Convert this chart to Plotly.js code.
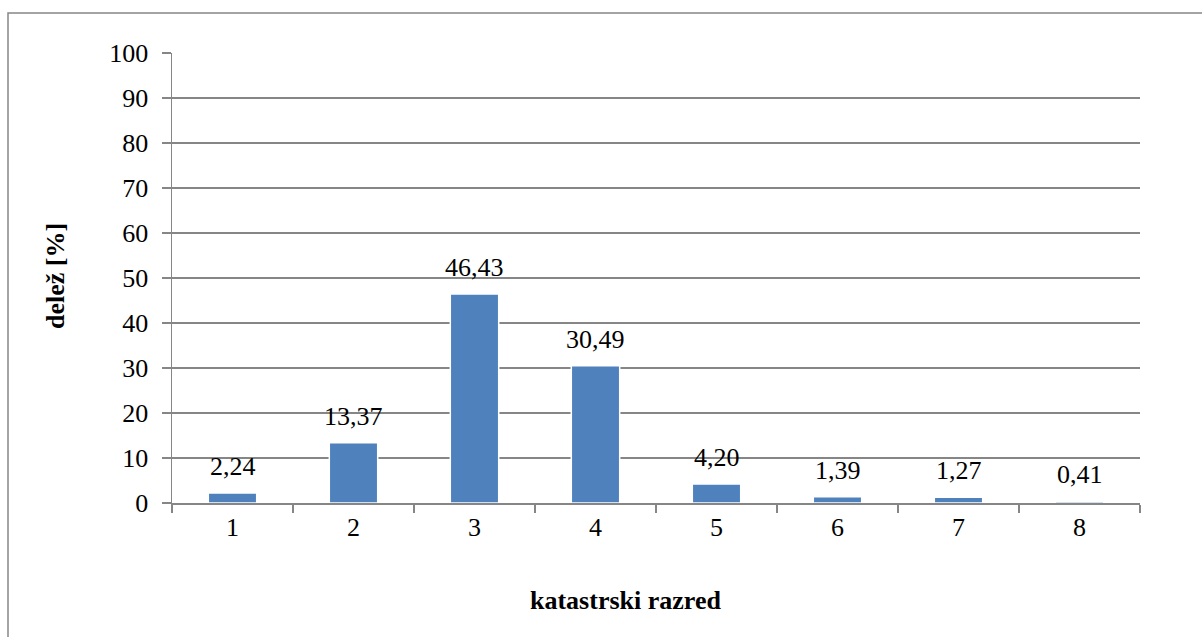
<!DOCTYPE html>
<html>
<head>
<meta charset="utf-8">
<script src="https://cdn.plot.ly/plotly-3.0.1.min.js"></script>
<style>
  html, body { margin: 0; padding: 0; background: #fff; }
  #chart { width: 1202px; height: 637px; }
</style>
</head>
<body>
<div id="chart"></div>
<script>
// Share of land per cadastral class
const razredi = ['1', '2', '3', '4', '5', '6', '7', '8'];
const delez = [2.24, 13.37, 46.43, 30.49, 4.20, 1.39, 1.27, 0.41];
const yTicks = [0, 10, 20, 30, 40, 50, 60, 70, 80, 90, 100];

const FONT = '"Liberation Serif", "Times New Roman", serif';
const GRAY = '#868686';

const W = 1202, H = 637;
const M = { l: 172, r: 62, t: 53, b: 134 };
const pw = W - M.l - M.r, ph = H - M.t - M.b;
// pixel -> paper helpers for the frame and the axis titles
const px = v => (v - M.l) / pw;
const py = v => (H - M.b - v) / ph;

const fmt = v => v.toFixed(2).replace('.', ',');

const trace = {
  type: 'bar',
  x: razredi,
  y: delez,
  marker: { color: '#4F81BD', line: { color: '#ffffff', width: 1.5 } },
  hoverinfo: 'x+y'
};

// value labels above each bar; on a category axis the annotation x is the category index
const valueLabels = razredi.map((r, i) => ({
  x: i, y: delez[i], xref: 'x', yref: 'y',
  text: fmt(delez[i]), showarrow: false,
  yanchor: 'bottom', yshift: 10,
  font: { family: FONT, size: 26, color: '#000' }
}));

const layout = {
  width: W, height: H,
  margin: M,
  paper_bgcolor: '#fff', plot_bgcolor: '#fff',
  showlegend: false,
  bargap: 0.6,
  font: { family: FONT, size: 26, color: '#000' },
  xaxis: {
    type: 'category',
    range: [-0.5, razredi.length - 0.5],
    tickson: 'boundaries',
    ticks: 'outside', ticklen: 8, tickwidth: 1.5, tickcolor: GRAY,
    showline: true, linecolor: GRAY, linewidth: 1.5,
    showgrid: false,
    tickfont: { family: FONT, size: 26, color: '#000' }
  },
  yaxis: {
    range: [0, 100],
    tickvals: yTicks,
    ticks: 'outside', ticklen: 9, tickwidth: 1.5, tickcolor: GRAY,
    showline: true, linecolor: GRAY, linewidth: 1.5,
    showgrid: true, gridcolor: GRAY, gridwidth: 1.5,
    zeroline: false,
    ticklabelstandoff: 8,
    tickfont: { family: FONT, size: 26, color: '#000' }
  },
  annotations: valueLabels.concat([
    {
      text: '<b>katastrski razred</b>', showarrow: false,
      xref: 'paper', yref: 'paper', x: px(625), y: py(600),
      xanchor: 'center', yanchor: 'middle',
      font: { family: FONT, size: 26, color: '#000' }
    },
    {
      text: '<b>delež [%]</b>', showarrow: false, textangle: -90,
      xref: 'paper', yref: 'paper', x: px(55), y: py(276),
      xanchor: 'center', yanchor: 'middle',
      font: { family: FONT, size: 26, color: '#000' }
    }
  ]),
  shapes: [{
    type: 'rect', xref: 'paper', yref: 'paper',
    x0: px(8), x1: px(1215), y0: py(13), y1: py(660),
    line: { color: GRAY, width: 1.5 }, fillcolor: 'rgba(0,0,0,0)',
    layer: 'below'
  }]
};

Plotly.newPlot('chart', [trace], layout, { displayModeBar: false, staticPlot: true });
</script>
</body>
</html>
